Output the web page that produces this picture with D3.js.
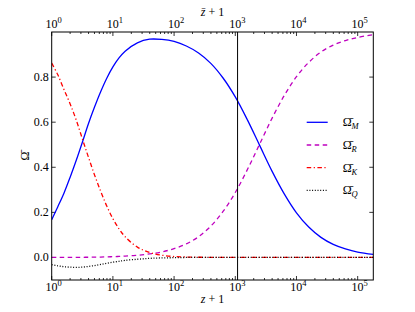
<!DOCTYPE html>
<html>
<head>
<meta charset="utf-8">
<script src="https://cdn.jsdelivr.net/npm/d3@7"></script>
<style>
    body { margin: 0; background: #fff; }
    svg text { font-family: "Liberation Serif"; }
</style>
</head>
<body>
<div id="chart"></div>
<script>
// z+1 sample points
var zPlusOne = [1, 1.259, 1.585, 1.995, 2.512, 3.162, 3.981, 5.012, 6.31, 7.943, 10, 12.59, 15.85,
    25.12, 39.81, 63.1, 100, 158.5, 251.2, 398.1, 631, 1000, 1585, 2512, 3981, 6310,
    10000, 15850, 25120, 39810, 63100, 100000, 180000];
var omegaM = [0.167, 0.225, 0.285, 0.355, 0.43, 0.51, 0.593, 0.667, 0.735, 0.795, 0.845, 0.885, 0.915,
    0.952, 0.968, 0.967, 0.958, 0.938, 0.907, 0.861, 0.796, 0.712, 0.609, 0.496, 0.383, 0.282,
    0.198, 0.135, 0.089, 0.058, 0.038, 0.024, 0.014];
var omegaR = [0.0001, 0.0001, 0.0002, 0.0003, 0.0004, 0.0007, 0.001, 0.0014, 0.0019, 0.0026, 0.0034, 0.0045, 0.0059,
    0.0097, 0.0156, 0.0247, 0.039, 0.06, 0.092, 0.139, 0.204, 0.288, 0.391, 0.504, 0.617, 0.718,
    0.802, 0.865, 0.911, 0.942, 0.962, 0.976, 0.988];
var omegaK = [0.862, 0.81, 0.745, 0.682, 0.61, 0.527, 0.445, 0.366, 0.294, 0.228, 0.172, 0.127, 0.092,
    0.046, 0.022, 0.01, 0.004, 0.002, 0.001, 0.0005, 0, 0, 0, 0, 0, 0,
    0, 0, 0, 0, 0, 0, 0];
var omegaQ = [-0.032, -0.037, -0.041, -0.043, -0.044, -0.043, -0.04, -0.036, -0.031, -0.026, -0.021, -0.017, -0.013,
    -0.008, -0.004, -0.002, -0.001, 0, 0, 0, 0, 0, 0, 0, 0, 0,
    0, 0, 0, 0, 0, 0, 0];
var seriesNames = ["M", "R", "K", "Q"];
var yTicks = [0, 0.2, 0.4, 0.6, 0.8];
var xMajorTicks = [1, 10, 100, 1000, 10000, 100000];
var recombination = 1090;

var width = 415, height = 312;
var margin = {top: 32, right: 41.7, bottom: 32, left: 51.7};

var svg = d3.select('#chart').append('svg')
    .attr('width', width)
    .attr('height', height);

var x = d3.scaleLog()
    .domain([1, 1.8e5])
    .range([margin.left, width - margin.right]);
var y = d3.scaleLinear()
    .domain([-0.1, 1.0])
    .range([height - margin.bottom, margin.top]);

var x0 = x.range()[0], x1 = x.range()[1];
var y0 = y.range()[0], y1 = y.range()[1];

svg.append('clipPath').attr('id', 'plotclip')
    .append('rect')
    .attr('x', x0).attr('y', y1)
    .attr('width', x1 - x0).attr('height', y0 - y1);

//minor ticks for the log axes
var xMinorTicks = [];
xMajorTicks.forEach(function (d) {
    for (var k = 2; k <= 9; k++) {
        if (d * k < x.domain()[1]) xMinorTicks.push(d * k);
    }
});

var tickGroup = svg.append('g').attr('stroke', '#000').attr('stroke-width', 0.8);
xMajorTicks.forEach(function (d) {
    tickGroup.append('line').attr('x1', x(d)).attr('x2', x(d)).attr('y1', y0).attr('y2', y0 - 4);
    tickGroup.append('line').attr('x1', x(d)).attr('x2', x(d)).attr('y1', y1).attr('y2', y1 + 4);
});
xMinorTicks.forEach(function (d) {
    tickGroup.append('line').attr('x1', x(d)).attr('x2', x(d)).attr('y1', y0).attr('y2', y0 - 2);
    tickGroup.append('line').attr('x1', x(d)).attr('x2', x(d)).attr('y1', y1).attr('y2', y1 + 2);
});
yTicks.forEach(function (d) {
    tickGroup.append('line').attr('x1', x0).attr('x2', x0 + 4).attr('y1', y(d)).attr('y2', y(d));
    tickGroup.append('line').attr('x1', x1).attr('x2', x1 - 4).attr('y1', y(d)).attr('y2', y(d));
});

//tick labels
function powerLabel(xPos, yPos, exp) {
    var t = svg.append('text')
        .attr('x', xPos)
        .attr('y', yPos)
        .attr('text-anchor', 'middle')
        .attr('font-size', '12px');
    t.append('tspan').text('10');
    t.append('tspan').text(exp).attr('font-size', '8.5px').attr('dy', -5);
}
xMajorTicks.forEach(function (d, i) {
    powerLabel(x(d) + 2, y0 + 11, String(i));
    powerLabel(x(d) + 2, y1 - 4, String(i));
});
yTicks.forEach(function (d) {
    svg.append('text')
        .attr('x', x0 - 3)
        .attr('y', y(d) + 4)
        .attr('text-anchor', 'end')
        .attr('font-size', '12px')
        .text(d.toFixed(1));
});

//axis titles
var bottomTitle = svg.append('text')
    .attr('x', (x0 + x1) / 2)
    .attr('y', 303)
    .attr('text-anchor', 'middle')
    .attr('font-size', '12px');
bottomTitle.append('tspan').attr('font-style', 'italic').text('z');
bottomTitle.append('tspan').text(' + 1');

var topTitle = svg.append('text')
    .attr('x', (x0 + x1) / 2)
    .attr('y', 16)
    .attr('text-anchor', 'middle')
    .attr('font-size', '12px');
topTitle.append('tspan').attr('font-style', 'italic').text('z\u0304');
topTitle.append('tspan').text(' + 1');

svg.append('text')
    .attr('transform', 'translate(29,' + ((y0 + y1) / 2) + ') rotate(-90)')
    .attr('text-anchor', 'middle')
    .attr('font-size', '12px')
    .text('\u03A9\u0304');

//curves
var series = [
    {name: 'M', values: omegaM, color: '#0000ff', dash: null},
    {name: 'R', values: omegaR, color: '#bf00bf', dash: '4.5,3.5'},
    {name: 'K', values: omegaK, color: '#ff0000', dash: '4.5,2.5,1.2,2.5'},
    {name: 'Q', values: omegaQ, color: '#000000', dash: '1,1.7'}
];

var line = d3.line()
    .x(function (d) { return x(d[0]); })
    .y(function (d) { return y(d[1]); })
    .curve(d3.curveCatmullRom.alpha(0.5));

var plot = svg.append('g').attr('clip-path', 'url(#plotclip)');
series.forEach(function (s) {
    plot.append('path')
        .datum(zPlusOne.map(function (z, i) { return [z, s.values[i]]; }))
        .attr('d', line)
        .attr('fill', 'none')
        .attr('stroke', s.color)
        .attr('stroke-width', 1.3)
        .attr('stroke-dasharray', s.dash);
});

//recombination line
plot.append('line')
    .attr('x1', x(recombination)).attr('x2', x(recombination))
    .attr('y1', y1).attr('y2', y0)
    .attr('stroke', '#000')
    .attr('stroke-width', 1);

//frame
svg.append('rect')
    .attr('x', x0).attr('y', y1)
    .attr('width', x1 - x0).attr('height', y0 - y1)
    .attr('fill', 'none')
    .attr('stroke', '#000')
    .attr('stroke-width', 1);

//legend
var legend = svg.append('g').attr('transform', 'translate(306.7,122.3)');
series.forEach(function (s, i) {
    var row = legend.append('g').attr('transform', 'translate(0,' + (i * 22.7) + ')');
    row.append('line')
        .attr('x1', 0).attr('x2', 21)
        .attr('y1', 0).attr('y2', 0)
        .attr('stroke', s.color)
        .attr('stroke-width', 1.3)
        .attr('stroke-dasharray', s.dash);
    var t = row.append('text')
        .attr('x', 36)
        .attr('y', 4)
        .attr('font-size', '12px');
    t.append('tspan').text('\u03A9\u0304');
    t.append('tspan').attr('font-style', 'italic').attr('font-size', '8.5px').attr('dy', 3).text(seriesNames[i]);
});
</script>
</body>
</html>
